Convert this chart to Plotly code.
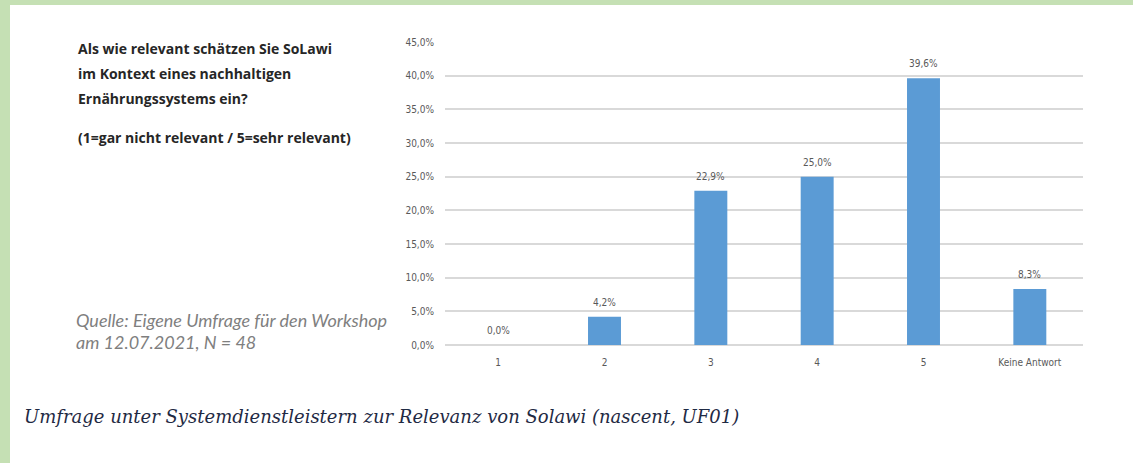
import plotly.graph_objects as go

categories = ["1", "2", "3", "4", "5", "Keine Antwort"]
values = [0.0, 4.2, 22.9, 25.0, 39.6, 8.3]
y_ticks = [0, 5, 10, 15, 20, 25, 30, 35, 40, 45]

title_lines = ["Als wie relevant schätzen Sie SoLawi",
               "im Kontext eines nachhaltigen",
               "Ernährungssystems ein?"]
scale_note = "(1=gar nicht relevant / 5=sehr relevant)"
source_lines = ["Quelle: Eigene Umfrage für den Workshop",
                "am 12.07.2021, N = 48"]
caption = "Umfrage unter Systemdienstleistern zur Relevanz von Solawi (nascent, UF01)"

def de_pct(v):
    return f"{v:.1f}".replace(".", ",") + "%"

W, H = 1133, 463
L, R, T, B = 445, 50, 42, 118
fig = go.Figure()
fig.add_trace(go.Bar(
    x=categories, y=values,
    marker=dict(color="#5b9bd5", line=dict(width=0)),
    width=0.31,
    cliponaxis=False,
))

label_font = dict(family="DejaVu Sans Condensed", size=10, color="#595959")
for i, v in enumerate(values):
    fig.add_annotation(x=i, y=v, text=de_pct(v), showarrow=False,
                       yanchor="bottom", yshift=7, font=label_font)

axis_font = dict(family="DejaVu Sans Condensed", size=10, color="#595959")
fig.update_layout(
    width=W, height=H,
    margin=dict(l=L, r=R, t=T, b=B),
    paper_bgcolor="white", plot_bgcolor="white",
    showlegend=False,
    xaxis=dict(type="category", showgrid=False, showline=False, ticks="", tickfont=axis_font,
               ticklabelstandoff=10, fixedrange=True),
    yaxis=dict(range=[0, 45], tickvals=y_ticks, ticktext=[de_pct(t) for t in y_ticks],
               showgrid=True, gridcolor="#d9d9d9", gridwidth=1.5,
               zeroline=True, zerolinecolor="#d9d9d9", zerolinewidth=1.5,
               showline=False, ticks="", ticklabelstandoff=10, tickfont=axis_font,
               fixedrange=True),
)

def px_x(x):
    return (x - L) / (W - L - R)

def px_y(y):
    return (H - B - y) / (H - T - B)

# green page frame
fig.add_shape(type="rect", xref="paper", yref="paper",
              x0=px_x(0), x1=px_x(W), y0=px_y(5), y1=px_y(0),
              fillcolor="#c5e0b4", line_width=0, layer="above")
fig.add_shape(type="rect", xref="paper", yref="paper",
              x0=px_x(0), x1=px_x(10), y0=px_y(H), y1=px_y(0),
              fillcolor="#c5e0b4", line_width=0, layer="above")

title_font = dict(family="Open Sans", size=14, color="#262626")
for i, line in enumerate(title_lines):
    fig.add_annotation(text="<b>" + line + "</b>", xref="paper", yref="paper",
                       x=px_x(76), y=px_y(48 + 25.5 * i), xanchor="left", yanchor="middle",
                       showarrow=False, font=title_font)
fig.add_annotation(text="<b>" + scale_note + "</b>", xref="paper", yref="paper",
                   x=px_x(76), y=px_y(137), xanchor="left", yanchor="middle",
                   showarrow=False, font=title_font)

src_font = dict(family="Lato", size=18, color="#7f7f7f")
for i, line in enumerate(source_lines):
    fig.add_annotation(text="<i>" + line + "</i>", xref="paper", yref="paper",
                       x=px_x(74), y=px_y(320 + 22 * i), xanchor="left", yanchor="middle",
                       showarrow=False, font=src_font)

fig.add_annotation(text="<i>" + caption + "</i>", xref="paper", yref="paper",
                   x=px_x(22), y=px_y(416), xanchor="left", yanchor="middle",
                   showarrow=False,
                   font=dict(family="DejaVu Serif", size=18, color="#1f2a44"))

fig.write_html("out.html", config={"displayModeBar": False},
               post_script="document.body.style.margin='0';")
